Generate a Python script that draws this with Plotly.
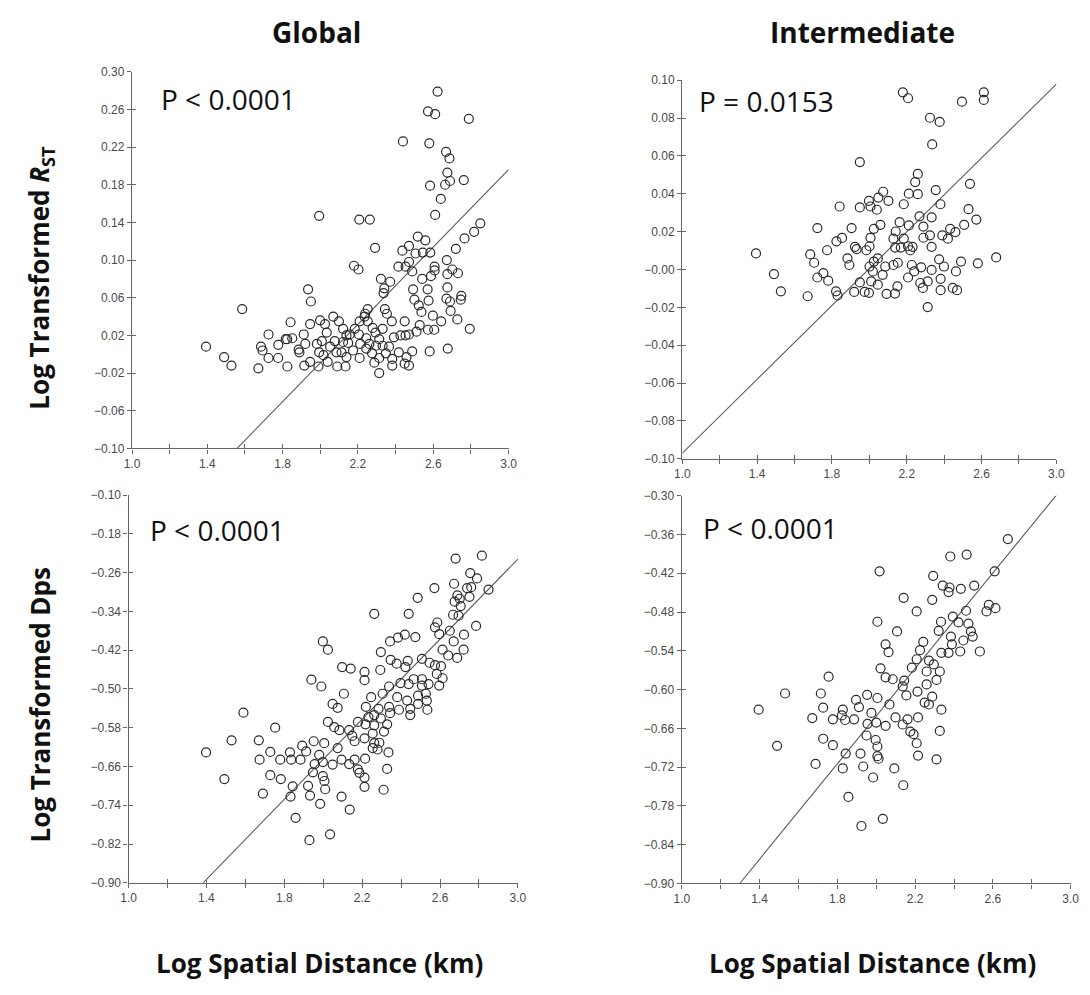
import plotly.graph_objects as go

# ---------------- DATA ----------------
# Panel A: Global, Log transformed R_ST vs log spatial distance
g_rst_x = [2.623, 2.572, 2.610, 2.789, 2.439, 2.579, 2.668, 2.686, 2.675, 2.689, 2.663, 2.762, 2.583, 2.640,
           2.610, 1.994, 2.207, 2.263, 2.850, 2.817, 2.766, 2.720, 2.672, 2.291, 2.518, 2.558, 2.471, 2.436,
           2.506, 2.544, 2.584, 2.471, 2.415, 2.453, 2.488, 2.607, 2.607, 2.588, 2.541, 2.675, 2.701, 2.731,
           2.179, 2.203, 2.322, 2.371, 2.340, 2.336, 2.493, 2.570, 2.675, 2.749, 2.746, 2.670, 2.689, 2.500,
           2.575, 2.523, 2.692, 2.537, 1.935, 1.950, 1.585, 2.343, 2.252, 2.238, 2.354, 2.598, 2.642, 2.728,
           2.448, 2.380, 2.794, 2.511, 2.528, 2.572, 2.605, 2.581, 2.677, 1.842, 1.946, 1.999, 2.069, 2.099,
           2.025, 1.725, 1.912, 1.851, 1.816, 1.777, 1.685, 1.693, 1.725, 1.393, 1.489, 1.528, 1.671, 1.776,
           1.825, 1.889, 1.920, 1.982, 1.994, 2.017, 2.052, 2.086, 1.946, 1.915, 1.990, 2.039, 2.090, 2.134,
           2.139, 2.121, 2.139, 2.183, 2.205, 2.148, 2.174, 2.212, 2.209, 2.244, 2.261, 2.275, 2.287, 2.293,
           2.313, 2.331, 2.331, 2.313, 2.313, 2.348, 2.365, 2.382, 2.382, 2.391, 2.417, 2.426, 2.453, 2.471,
           2.458, 2.448, 2.471, 2.488, 2.252, 2.278, 2.209, 2.235, 2.121, 2.156, 1.824, 1.885, 2.034, 2.008,
           2.077, 2.113, 2.244, 2.296]
g_rst_y = [0.279, 0.258, 0.255, 0.250, 0.226, 0.224, 0.215, 0.208, 0.193, 0.184, 0.180, 0.185, 0.179, 0.165,
           0.148, 0.147, 0.143, 0.143, 0.139, 0.130, 0.123, 0.112, 0.100, 0.113, 0.125, 0.121, 0.115, 0.110,
           0.107, 0.108, 0.108, 0.098, 0.093, 0.093, 0.088, 0.093, 0.089, 0.083, 0.080, 0.085, 0.090, 0.086,
           0.094, 0.090, 0.080, 0.077, 0.070, 0.065, 0.069, 0.069, 0.071, 0.062, 0.058, 0.059, 0.056, 0.058,
           0.057, 0.052, 0.046, 0.045, 0.069, 0.056, 0.048, 0.048, 0.048, 0.043, 0.043, 0.041, 0.035, 0.037,
           0.035, 0.035, 0.027, 0.024, 0.031, 0.026, 0.026, 0.003, 0.006, 0.034, 0.032, 0.036, 0.040, 0.035,
           0.032, 0.021, 0.021, 0.017, 0.016, 0.010, 0.008, 0.004, -0.004, 0.008, -0.003, -0.012, -0.015, -0.004,
           -0.013, 0.002, 0.011, 0.011, 0.002, -0.001, 0.008, 0.002, -0.008, -0.012, -0.013, -0.008, -0.013, -0.013,
           -0.003, 0.013, 0.020, 0.027, 0.021, 0.012, 0.004, 0.011, -0.004, 0.017, 0.011, 0.001, -0.009, 0.023,
           0.016, 0.027, 0.009, -0.004, -0.020, 0.001, 0.008, -0.005, -0.012, 0.018, 0.002, 0.020, 0.020, 0.021,
           -0.003, -0.010, -0.012, 0.003, 0.035, 0.028, 0.035, 0.040, 0.027, 0.021, 0.016, 0.005, 0.023, 0.014,
           0.014, 0.002, 0.006, 0.009]

# Panel B: Intermediate, Log transformed R_ST
i_rst_x = [2.179, 2.207, 2.495, 2.612, 2.612, 2.324, 2.376, 2.336, 1.949, 2.259, 2.245, 2.538, 2.355, 2.074,
           2.211, 2.259, 2.048, 1.998, 2.102, 2.184, 2.380, 1.841, 1.949, 2.006, 2.040, 2.530, 2.268, 2.333,
           2.572, 2.162, 2.211, 2.059, 2.507, 1.722, 1.905, 2.024, 2.141, 2.289, 2.432, 2.460, 2.324, 2.390,
           2.420, 1.854, 1.824, 2.006, 2.129, 2.184, 2.289, 2.001, 1.923, 1.932, 1.984, 2.138, 2.168, 2.207,
           2.231, 2.219, 2.333, 1.394, 1.774, 1.684, 1.705, 1.883, 1.893, 2.045, 2.085, 2.152, 2.129, 2.227,
           2.277, 2.373, 2.399, 2.490, 2.580, 2.678, 2.333, 2.240, 2.001, 2.019, 2.071, 1.490, 1.754, 1.722,
           1.780, 2.207, 2.272, 2.312, 2.381, 2.463, 1.949, 2.010, 2.045, 2.150, 2.286, 2.446, 2.469, 1.527,
           1.670, 1.822, 1.830, 1.919, 1.975, 1.998, 2.092, 2.137, 2.381, 2.312, 2.024]
i_rst_y = [0.0936, 0.0905, 0.0887, 0.0936, 0.0896, 0.0802, 0.0780, 0.0661, 0.0568, 0.0505, 0.0462, 0.0453,
           0.0420, 0.0411, 0.0401, 0.0398, 0.0380, 0.0363, 0.0363, 0.0345, 0.0345, 0.0333, 0.0328, 0.0333,
           0.0316, 0.0319, 0.0281, 0.0276, 0.0264, 0.0250, 0.0233, 0.0236, 0.0236, 0.0219, 0.0219, 0.0215,
           0.0201, 0.0227, 0.0215, 0.0198, 0.0181, 0.0181, 0.0163, 0.0167, 0.0149, 0.0167, 0.0163, 0.0163,
           0.0168, 0.0123, 0.0120, 0.0108, 0.0102, 0.0116, 0.0116, 0.0123, 0.0120, 0.0102, 0.0120, 0.0085,
           0.0102, 0.0080, 0.0036, 0.0059, 0.0024, 0.0059, 0.0016, 0.0036, 0.0024, 0.0024, 0.0012, 0.0054,
           0.0016, 0.0042, 0.0033, 0.0064, -0.0002, -0.0010, 0.0016, -0.0010, -0.0028, -0.0024, -0.0019, -0.0042,
           -0.0059, -0.0042, -0.0071, -0.0063, -0.0049, -0.0010, -0.0068, -0.0063, -0.0080, -0.0089, -0.0097,
           -0.0097, -0.0109, -0.0115, -0.0141, -0.0115, -0.0137, -0.0118, -0.0118, -0.0123, -0.0128, -0.0127,
           -0.0109, -0.0198, 0.0042]

# Panel C: Global, Log transformed Dps
g_dps_x = [2.680, 2.815, 2.755, 2.790, 2.672, 2.760, 2.739, 2.849, 2.689, 2.701, 2.751, 2.571, 2.485, 2.262,
           2.439, 2.706, 2.667, 2.695, 2.586, 2.574, 2.785, 2.596, 2.650, 2.723, 2.670, 2.613, 2.721, 2.688,
           2.642, 2.419, 2.384, 2.343, 2.473, 1.998, 2.024, 2.296, 2.346, 2.377, 2.434, 2.422, 2.507, 2.546,
           2.574, 2.605, 2.097, 2.141, 2.293, 2.212, 2.212, 1.939, 1.990, 2.106, 2.583, 2.613, 2.596, 2.465,
           2.507, 2.507, 2.541, 2.439, 2.397, 2.338, 2.305, 2.246, 2.380, 2.431, 2.487, 2.527, 2.487, 2.532,
           2.535, 2.447, 2.447, 2.389, 2.338, 2.343, 2.284, 2.219, 2.232, 2.262, 2.296, 2.048, 2.074, 1.590,
           1.753, 1.529, 1.669, 2.024, 2.056, 2.083, 2.133, 2.178, 2.217, 2.262, 2.328, 2.312, 2.254, 2.149,
           2.161, 2.212, 2.262, 2.288, 2.254, 2.279, 2.335, 1.951, 2.005, 1.892, 1.912, 1.829, 2.074, 1.728,
           1.398, 1.673, 1.779, 1.835, 1.883, 1.979, 1.956, 1.998, 2.048, 2.094, 2.133, 2.161, 2.215, 2.178,
           2.328, 1.947, 1.998, 2.006, 2.010, 1.728, 1.782, 2.186, 2.212, 2.212, 1.492, 1.843, 1.922, 2.310,
           1.690, 1.832, 1.932, 2.094, 1.984, 2.136, 1.858, 2.035, 1.929, 2.675]
g_dps_y = [-0.231, -0.225, -0.261, -0.272, -0.283, -0.290, -0.292, -0.295, -0.307, -0.314, -0.310, -0.292,
           -0.312, -0.345, -0.345, -0.329, -0.347, -0.349, -0.363, -0.373, -0.370, -0.387, -0.380, -0.388,
           -0.402, -0.419, -0.419, -0.436, -0.431, -0.388, -0.394, -0.402, -0.393, -0.402, -0.419, -0.424,
           -0.440, -0.448, -0.442, -0.455, -0.438, -0.446, -0.451, -0.453, -0.455, -0.458, -0.461, -0.465,
           -0.482, -0.481, -0.495, -0.510, -0.469, -0.478, -0.493, -0.480, -0.480, -0.493, -0.490, -0.490,
           -0.488, -0.495, -0.510, -0.517, -0.517, -0.524, -0.514, -0.510, -0.531, -0.524, -0.543, -0.541,
           -0.554, -0.543, -0.537, -0.550, -0.541, -0.537, -0.558, -0.554, -0.561, -0.531, -0.539, -0.549,
           -0.580, -0.606, -0.606, -0.568, -0.579, -0.585, -0.585, -0.568, -0.573, -0.575, -0.573, -0.588,
           -0.592, -0.597, -0.608, -0.602, -0.612, -0.611, -0.622, -0.625, -0.631, -0.608, -0.612, -0.617,
           -0.629, -0.631, -0.622, -0.630, -0.631, -0.646, -0.646, -0.646, -0.646, -0.636, -0.655, -0.651,
           -0.656, -0.646, -0.655, -0.646, -0.644, -0.666, -0.665, -0.672, -0.680, -0.690, -0.707, -0.678,
           -0.686, -0.673, -0.683, -0.702, -0.686, -0.701, -0.700, -0.708, -0.716, -0.722, -0.720, -0.722,
           -0.737, -0.749, -0.766, -0.800, -0.812, -0.320]

# Panel D: Intermediate, Log transformed Dps
i_dps_x = [2.677, 2.381, 2.465, 2.017, 2.609, 2.293, 2.342, 2.377, 2.372, 2.435, 2.504, 2.141, 2.288, 2.579,
           2.613, 2.567, 2.208, 2.462, 2.006, 2.394, 2.333, 2.423, 2.474, 2.321, 2.107, 2.487, 2.496, 2.384,
           2.448, 2.242, 2.048, 2.063, 2.225, 2.335, 2.372, 2.432, 2.533, 2.389, 2.208, 2.271, 2.296, 2.183,
           2.022, 2.259, 2.327, 1.755, 2.048, 2.085, 2.144, 2.310, 2.136, 2.259, 1.531, 1.715, 2.212, 1.953,
           2.006, 2.155, 2.288, 1.896, 1.727, 1.828, 1.911, 2.068, 2.249, 2.271, 1.395, 2.335, 1.823, 1.975,
           1.671, 1.777, 1.840, 1.886, 2.099, 2.161, 2.215, 1.955, 2.000, 2.048, 2.136, 2.175, 2.192, 2.327,
           1.950, 1.997, 1.727, 1.777, 2.208, 1.490, 2.006, 1.843, 1.919, 2.006, 2.012, 2.215, 1.688, 2.310,
           1.828, 1.933, 2.093, 1.984, 2.139, 1.857, 2.034, 1.924]
i_dps_y = [-0.367, -0.394, -0.391, -0.417, -0.417, -0.424, -0.439, -0.442, -0.449, -0.444, -0.439, -0.458,
           -0.461, -0.469, -0.474, -0.479, -0.479, -0.478, -0.495, -0.487, -0.495, -0.496, -0.498, -0.509,
           -0.510, -0.510, -0.518, -0.518, -0.524, -0.526, -0.530, -0.542, -0.539, -0.543, -0.543, -0.541,
           -0.541, -0.530, -0.553, -0.555, -0.561, -0.566, -0.567, -0.572, -0.572, -0.580, -0.581, -0.584,
           -0.586, -0.585, -0.595, -0.592, -0.606, -0.606, -0.603, -0.608, -0.613, -0.609, -0.611, -0.616,
           -0.628, -0.631, -0.627, -0.623, -0.620, -0.623, -0.631, -0.631, -0.640, -0.636, -0.644, -0.646,
           -0.647, -0.646, -0.643, -0.646, -0.643, -0.653, -0.651, -0.656, -0.654, -0.665, -0.669, -0.664,
           -0.671, -0.678, -0.676, -0.686, -0.683, -0.687, -0.688, -0.699, -0.699, -0.703, -0.707, -0.702,
           -0.715, -0.708, -0.722, -0.719, -0.722, -0.736, -0.748, -0.766, -0.800, -0.811]

# Regression line end points
fit_g_rst_x = [1.558, 3.0]
fit_g_rst_y = [-0.10, 0.196]
fit_i_rst_x = [1.0, 3.0]
fit_i_rst_y = [-0.097, 0.098]
fit_g_dps_x = [1.383, 3.0]
fit_g_dps_y = [-0.90, -0.232]
fit_i_dps_x = [1.298, 3.0]
fit_i_dps_y = [-0.90, -0.272]

# Tick values / labels
x_tickvals = [1.0, 1.4, 1.8, 2.2, 2.6, 3.0]
x_ticktext = ["1.0", "1.4", "1.8", "2.2", "2.6", "3.0"]
x_all_tickvals = [1.0, 1.2, 1.4, 1.6, 1.8, 2.0, 2.2, 2.4, 2.6, 2.8, 3.0]
yA_tickvals = [0.30, 0.26, 0.22, 0.18, 0.14, 0.10, 0.06, 0.02, -0.02, -0.06, -0.10]
yA_ticktext = ["0.30", "0.26", "0.22", "0.18", "0.14", "0.10", "0.06", "0.02", "\u22120.02", "\u22120.06", "\u22120.10"]
yB_tickvals = [0.10, 0.08, 0.06, 0.04, 0.02, 0.0, -0.02, -0.04, -0.06, -0.08, -0.10]
yB_ticktext = ["0.10", "0.08", "0.06", "0.04", "0.02", "\u22120.00", "\u22120.02", "\u22120.04", "\u22120.06", "\u22120.08", "\u22120.10"]
yC_tickvals = [-0.10, -0.18, -0.26, -0.34, -0.42, -0.50, -0.58, -0.66, -0.74, -0.82, -0.90]
yC_ticktext = ["\u22120.10", "\u22120.18", "\u22120.26", "\u22120.34", "\u22120.42", "\u22120.50", "\u22120.58", "\u22120.66", "\u22120.74", "\u22120.82", "\u22120.90"]
yD_tickvals = [-0.30, -0.36, -0.42, -0.48, -0.54, -0.60, -0.66, -0.72, -0.78, -0.84, -0.90]
yD_ticktext = ["\u22120.30", "\u22120.36", "\u22120.42", "\u22120.48", "\u22120.54", "\u22120.60", "\u22120.66", "\u22120.72", "\u22120.78", "\u22120.84", "\u22120.90"]

p_texts = ["P < 0.0001", "P = 0.0153", "P < 0.0001", "P < 0.0001"]
col_titles = ["Global", "Intermediate"]
y_titles = ["Log Transformed <i>R</i><sub>ST</sub>", "Log Transformed Dps"]
x_title = "Log Spatial Distance (km)"

# ---------------- FIGURE ----------------
W, H = 1090, 995
fig = go.Figure()

panels = [
    dict(x=g_rst_x, y=g_rst_y, fx=fit_g_rst_x, fy=fit_g_rst_y, yr=[-0.10, 0.30],
         yt=yA_tickvals, ytt=yA_ticktext, px=(126, 508.5), py=(65.7, 447.7), ptxt=(153, 93)),
    dict(x=i_rst_x, y=i_rst_y, fx=fit_i_rst_x, fy=fit_i_rst_y, yr=[-0.10, 0.10],
         yt=yB_tickvals, ytt=yB_ticktext, px=(685, 1065), py=(74.3, 458.3), ptxt=(700, 95)),
    dict(x=g_dps_x, y=g_dps_y, fx=fit_g_dps_x, fy=fit_g_dps_y, yr=[-0.90, -0.10],
         yt=yC_tickvals, ytt=yC_ticktext, px=(122.5, 518), py=(495, 888.3), ptxt=(142, 530)),
    dict(x=i_dps_x, y=i_dps_y, fx=fit_i_dps_x, fy=fit_i_dps_y, yr=[-0.90, -0.30],
         yt=yD_tickvals, ytt=yD_ticktext, px=(684.5, 1079.5), py=(495.7, 889), ptxt=(704, 528)),
]

axis_color = "#666666"
tick_font = dict(family="Liberation Sans, Arial", size=12, color="#4a4a4a")

for i, p in enumerate(panels, start=1):
    xs = "" if i == 1 else str(i)
    xdom = [p["px"][0] / W, p["px"][1] / W]
    ydom = [1 - p["py"][1] / H, 1 - p["py"][0] / H]
    xa = dict(domain=xdom, range=[1.0, 3.0], anchor="y" + xs, showgrid=False, zeroline=False,
              showline=True, linecolor=axis_color, linewidth=1.4, ticks="outside", ticklen=4,
              tickwidth=1.3, tickcolor=axis_color, tickvals=x_tickvals, ticktext=x_ticktext,
              minor=dict(ticks="outside", ticklen=4, tickwidth=1.3, tickcolor=axis_color,
                         dtick=0.2, tick0=1.0, showgrid=False),
              tickfont=tick_font, fixedrange=True)
    ya = dict(domain=ydom, range=p["yr"], anchor="x" + xs, showgrid=False, zeroline=False,
              showline=True, linecolor=axis_color, linewidth=1.4, ticks="outside", ticklen=4,
              tickwidth=1.3, tickcolor=axis_color, tickvals=p["yt"], ticktext=p["ytt"],
              tickfont=tick_font, fixedrange=True)
    fig.update_layout(**{"xaxis" + xs: xa, "yaxis" + xs: ya})
    # overlay axes to draw the inner half of crossing ticks
    j = str(i + 4)
    fig.update_layout(**{
        "xaxis" + j: dict(overlaying="x" + xs, anchor="y" + j, range=[1.0, 3.0], domain=xdom,
                          showgrid=False, zeroline=False, showline=False, ticks="inside", ticklen=4,
                          tickwidth=1.3, tickcolor=axis_color, tickvals=x_all_tickvals,
                          showticklabels=False, fixedrange=True),
        "yaxis" + j: dict(overlaying="y" + xs, anchor="x" + j, range=p["yr"], domain=ydom,
                          showgrid=False, zeroline=False, showline=False, ticks="inside", ticklen=4,
                          tickwidth=1.3, tickcolor=axis_color, tickvals=p["yt"],
                          showticklabels=False, fixedrange=True),
    })
    fig.add_trace(go.Scatter(x=[], y=[], xaxis="x" + j, yaxis="y" + j, showlegend=False,
                             hoverinfo="skip", mode="markers"))
    # regression line
    fig.add_trace(go.Scatter(x=p["fx"], y=p["fy"], mode="lines", xaxis="x" + xs, yaxis="y" + xs,
                             line=dict(color="#5a5a5a", width=1.1), showlegend=False, hoverinfo="skip"))
    # points
    fig.add_trace(go.Scatter(x=p["x"], y=p["y"], mode="markers", xaxis="x" + xs, yaxis="y" + xs,
                             marker=dict(symbol="circle-open", size=9, color="#2b2b2b",
                                         line=dict(width=1.2, color="#2b2b2b")),
                             showlegend=False, cliponaxis=False))
    # P value text
    fig.add_annotation(text=p_texts[i - 1], xref="paper", yref="paper",
                       x=p["ptxt"][0] / W, y=1 - p["ptxt"][1] / H, xanchor="left", yanchor="middle",
                       showarrow=False, font=dict(family="Open Sans", size=28, color="#111111"))

title_font = dict(family="Open Sans", size=28, color="#111111", weight="bold")
axis_title_font = dict(family="Open Sans", size=26, color="#111111", weight="bold")

# column titles
for txt, cx in zip(col_titles, [313, 868]):
    fig.add_annotation(text=txt, xref="paper", yref="paper", x=cx / W, y=1 - 25 / H,
                       xanchor="center", yanchor="middle", showarrow=False, font=title_font)
# y titles
for txt, cy in zip(y_titles, [274, 707]):
    fig.add_annotation(text=txt, xref="paper", yref="paper", x=33 / W, y=1 - cy / H, textangle=-90,
                       xanchor="center", yanchor="middle", showarrow=False, font=axis_title_font)
# x titles
for cx in [316, 878]:
    fig.add_annotation(text=x_title, xref="paper", yref="paper", x=cx / W, y=1 - 970 / H,
                       xanchor="center", yanchor="middle", showarrow=False, font=axis_title_font)

fig.update_layout(width=W, height=H, margin=dict(l=0, r=0, t=0, b=0),
                  paper_bgcolor="white", plot_bgcolor="white", showlegend=False)

fig.write_html("out.html")
